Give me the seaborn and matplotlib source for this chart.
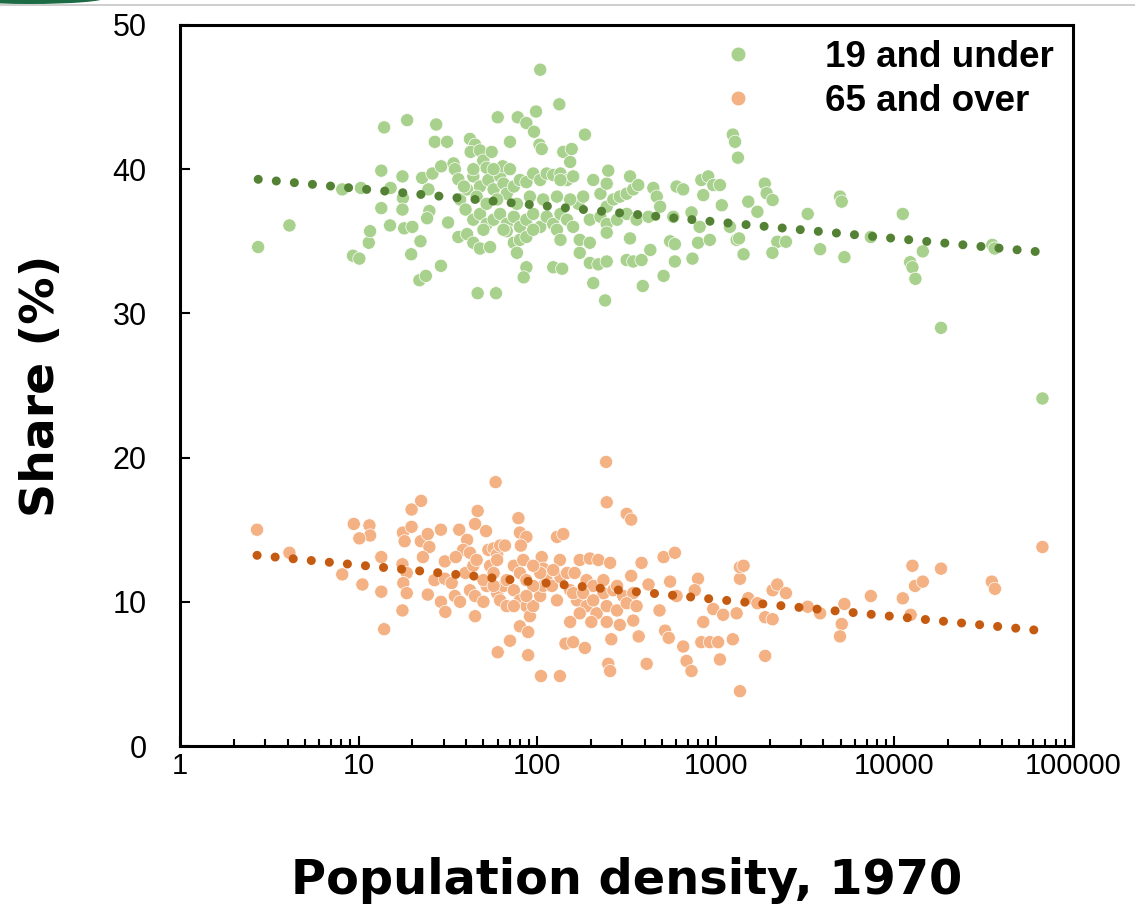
import numpy as np
import pandas as pd
import matplotlib
matplotlib.use("Agg")
import matplotlib.pyplot as plt
import seaborn as sns
from matplotlib.lines import Line2D
from matplotlib.patches import Ellipse
from matplotlib.ticker import LogLocator, FixedLocator, NullFormatter, FixedFormatter

# ---------------- data ----------------
series_names = ["19 and under", "65 and over"]

young_density = [
    2.74, 4.1, 8.1, 10.3, 9.3, 10.1, 11.4, 11.6, 13.4, 13.4, 13.9, 15.0, 15.1, 17.6, 17.7, 17.6,
    18.0, 18.7, 19.7, 20, 22.2, 21.9, 23.8, 22.7, 24.6, 24.9, 24.2, 25.9, 27.2, 26.7, 31.3, 29.0,
    28.9, 31.7, 34, 34.6, 36.2, 37.0, 42, 44.9, 42.4, 47.8, 49.9, 52.1, 46.4, 58.8, 40.5, 43.9,
    47.8, 53.3, 57, 62, 64.8, 67.5, 74, 80, 87, 95, 104, 113, 123, 135, 147, 159,
    39.7, 43.9, 47.8, 52.1, 57, 62, 67.5, 74, 80, 87, 95, 104, 113, 123, 135, 147, 159,
    36.2, 40.5, 43.9, 47.8, 54.5, 67.5, 74, 80, 87, 77, 87, 84, 123, 138,
    55.6, 60.1, 77.8, 98.5, 133, 87, 96, 103, 106, 70.4, 64.1, 185, 140, 156, 153,
    170, 181, 206, 226, 245, 250, 245, 267, 290, 317, 345, 197, 226, 245, 280, 317, 360, 420,
    173, 197, 245, 331, 173, 197, 220, 245, 317, 345, 384, 430, 206, 240, 390, 510,
    331, 368, 447, 603, 657, 830, 907, 968, 1055, 467, 488, 578, 731, 851, 812, 1080, 1200, 1308,
    555, 590, 795, 926, 590, 740, 38.9, 45.8, 52.1, 59.7, 77, 91, 108, 129, 153,
    50, 64.8, 95, 129, 135, 43.9, 57, 70.4, 135, 104, 1245, 1282, 1330,
    1520, 1710, 1880, 1926, 2080, 1430, 1350, 2210, 2470, 2075, 3270, 3840, 4960, 5070, 5250,
    7380, 11140, 14420, 12250, 12620, 13110, 18240, 35350, 36390, 67450,
]
young_share = [
    34.6, 36.1, 38.6, 38.7, 34.0, 33.8, 34.9, 35.7, 37.3, 39.9, 42.9, 36.1, 38.7, 39.5, 38.0, 37.2,
    35.9, 43.4, 34.1, 36.0, 35.0, 32.3, 32.6, 39.4, 38.6, 37.1, 36.6, 39.7, 43.1, 41.9, 41.9, 40.2,
    33.3, 36.3, 40.4, 40.0, 39.3, 37.9, 42.1, 41.7, 41.2, 41.3, 40.6, 40.1, 31.4, 31.4, 38.6, 39.5,
    38.8, 39.25, 38.6, 39.5, 39.0, 38.3, 38.8, 39.25, 39.1, 39.7, 39.25, 39.7, 39.6, 39.7, 39.25, 39.5,
    37.2, 36.5, 36.9, 36.2, 36.5, 36.9, 36.2, 36.7, 36.0, 36.5, 36.9, 36.0, 36.7, 36.2, 36.9, 36.5, 36.0,
    35.3, 35.5, 34.9, 34.5, 34.6, 35.7, 34.9, 35.1, 35.3, 34.2, 33.2, 32.5, 33.2, 33.1,
    41.2, 43.6, 43.6, 44.0, 44.5, 43.2, 42.6, 41.7, 41.4, 41.9, 40.2, 42.4, 41.2, 41.4, 40.5,
    37.6, 38.1, 39.25, 38.3, 39.0, 39.9, 37.4, 37.9, 38.1, 38.3, 38.6, 36.5, 36.7, 36.2, 36.5, 36.9, 36.5, 36.7,
    35.1, 34.9, 35.6, 35.2, 34.2, 33.5, 33.4, 33.6, 33.7, 33.6, 33.7, 34.4, 32.1, 30.9, 31.9, 32.6,
    39.5, 38.9, 38.7, 38.8, 38.6, 39.25, 39.5, 38.9, 38.9, 38.1, 37.4, 36.7, 37.0, 38.2, 36.0, 37.5, 36.0, 35.1,
    35.0, 34.8, 34.9, 35.1, 33.6, 33.8, 38.8, 38.1, 37.6, 37.9, 37.6, 38.1, 37.9, 38.1, 37.9,
    35.8, 35.8, 35.8, 35.8, 35.1, 40.0, 40.0, 40.0, 39.25, 46.9, 42.4, 41.9, 40.8,
    37.75, 37.05, 39.0, 38.33, 37.86, 34.1, 35.2, 34.97, 34.97, 34.2, 36.9, 34.45, 38.1, 37.75, 33.9,
    35.3, 36.9, 34.3, 33.55, 33.2, 32.4, 29.0, 34.75, 34.5, 24.1,
]

old_density = [
    2.7, 4.1, 8.1, 9.4, 11.5, 11.6, 10.1, 10.5, 13.4, 13.4, 13.9, 17.6, 18.6, 17.8, 18.6, 17.6,
    17.7, 18.1, 19.8, 19.8, 22.4, 22.3, 24.4, 24.9, 22.9, 24.4, 28.9, 28.9, 30.6, 26.6, 30.4, 33.2,
    34.6, 37, 36.6, 40.5, 38.5, 44.9, 46.4, 51.7, 30.4, 35, 39.7, 43.9, 42, 44.9, 44.9, 58.5,
    53.3, 57, 59.7, 62, 66, 54.5, 59.7, 57, 52.1, 50, 59.7, 64.8, 67.5, 74, 80, 78.5,
    80, 87, 81, 83.6, 74, 80, 87, 91, 95, 104, 108, 113, 121, 129, 135, 147, 153,
    106, 108, 129, 140, 134, 80, 89, 70.4, 60.1, 89, 105, 134, 243, 245, 317, 336,
    173, 197, 220, 256, 162, 189, 206, 235, 267, 303, 345, 167, 189, 215, 245, 280, 317, 360,
    173, 201, 245, 290, 345, 153, 144, 159, 185, 250, 256, 410, 260, 370,
    336, 384, 420, 510, 555, 590, 603, 484, 520, 545, 657, 686, 731, 851, 795, 762, 830, 926,
    1030, 1055, 968, 1100, 1245, 1308, 1365, 1365, 1365,
    42, 45.8, 50, 57, 62, 67.5, 74, 87, 95, 104, 123, 95, 87, 159, 181, 206, 235, 280,
    1430, 1520, 1710, 1890, 2080, 1890, 2080, 2210, 2470, 3270, 3840, 5250, 5070, 4960,
    7380, 11140, 12330, 12620, 13050, 14420, 18240, 35100, 36560, 67450,
]
old_share = [
    15.0, 13.4, 11.9, 15.4, 15.3, 14.6, 14.4, 11.2, 13.1, 10.7, 8.1, 12.6, 12.0, 11.3, 10.6, 9.4,
    14.8, 14.2, 15.2, 16.4, 17.0, 14.2, 14.7, 13.8, 13.1, 10.5, 15.0, 10.0, 9.3, 11.5, 11.6, 11.3,
    10.4, 10.0, 15.0, 14.3, 13.6, 15.4, 16.3, 14.9, 12.8, 13.1, 12.0, 12.5, 10.8, 10.4, 9.0, 18.3,
    13.6, 13.7, 13.3, 13.9, 13.9, 12.5, 12.9, 12.0, 11.1, 10.0, 10.6, 11.1, 11.5, 12.5, 12.0, 15.8,
    14.8, 14.5, 13.9, 12.9, 10.8, 10.1, 9.7, 9.0, 9.7, 10.4, 11.1, 11.5, 11.1, 10.1, 11.7, 12.0, 10.8,
    13.1, 12.3, 14.5, 14.7, 12.9, 8.3, 7.9, 7.3, 6.5, 6.3, 4.85, 4.85, 19.7, 16.9, 16.1, 15.7,
    12.9, 13.0, 12.9, 12.7, 12.0, 11.5, 11.1, 10.6, 10.8, 10.4, 10.6, 10.1, 9.7, 9.2, 9.7, 9.4, 9.9, 9.7,
    9.2, 8.6, 8.6, 8.4, 8.7, 8.6, 7.1, 7.2, 6.8, 5.7, 5.2, 5.7, 7.4, 7.6,
    11.8, 12.7, 11.2, 13.1, 11.4, 13.4, 10.4, 9.4, 8.0, 7.5, 6.9, 5.9, 5.2, 8.6, 11.6, 10.8, 7.2, 7.2,
    7.2, 6.0, 9.5, 9.1, 7.4, 9.2, 11.6, 3.8, 12.4,
    13.4, 12.9, 11.5, 11.1, 10.1, 9.7, 9.7, 11.5, 11.1, 12.0, 12.2, 12.5, 10.4, 10.6, 10.6, 10.1, 11.5, 11.1,
    12.5, 10.25, 9.9, 8.93, 8.79, 6.25, 10.8, 11.2, 10.6, 9.66, 9.2, 9.85, 8.46, 7.6,
    10.4, 10.24, 9.1, 12.5, 11.1, 11.4, 12.3, 11.4, 10.9, 13.8,
]

x_ticks = [1, 10, 100, 1000, 10000, 100000]
x_tick_labels = ["1", "10", "100", "1000", "10000", "100000"]
y_ticks = [0, 10, 20, 30, 40, 50]
x_label = "Population density, 1970"
y_label = "Share (%)"

point_colors = ["#A9D18E", "#F4B183"]
trend_colors = ["#548235", "#C55A11"]

# ---------------- figure ----------------
sns.set_theme(style="white")
plt.rcParams["font.family"] = ["Liberation Sans", "DejaVu Sans"]
for key in ["text.color", "axes.labelcolor", "xtick.color", "ytick.color", "axes.edgecolor"]:
    plt.rcParams[key] = "black"

W, H = 1135, 911
fig = plt.figure(figsize=(W / 100, H / 100), dpi=100)
ax = fig.add_axes([180 / W, 1 - 746 / H, (1073 - 180) / W, (746 - 25) / H])

df = pd.concat([
    pd.DataFrame({"density": young_density, "share": young_share, "group": series_names[0]}),
    pd.DataFrame({"density": old_density, "share": old_share, "group": series_names[1]}),
], ignore_index=True)

ax.set_xscale("log")
sns.scatterplot(data=df, x="density", y="share", hue="group", hue_order=series_names,
                palette=point_colors, s=90, edgecolor="white", linewidth=0.5,
                alpha=1.0, ax=ax, zorder=2)

for name, tc in zip(series_names, trend_colors):
    sub = df[df["group"] == name]
    sns.regplot(data=sub, x="density", y="share", logx=True, scatter=False, ci=None,
                truncate=True, ax=ax,
                line_kws=dict(color=tc, lw=6.5, linestyle=(0, (0.01, 2.0)),
                              dash_capstyle="round", zorder=3))

ax.set_xlim(1, 100000)
ax.set_ylim(0, 50)

ax.xaxis.set_major_locator(FixedLocator(x_ticks))
ax.xaxis.set_major_formatter(FixedFormatter(x_tick_labels))
ax.xaxis.set_minor_locator(LogLocator(base=10, subs=np.arange(2, 10)))
ax.xaxis.set_minor_formatter(NullFormatter())
ax.set_yticks(y_ticks)
ax.set_yticklabels([str(v) for v in y_ticks])

ax.tick_params(axis="x", which="major", direction="in", length=7.2, width=1.5,
               labelsize=21, pad=4, colors="black", bottom=True, top=False)
ax.tick_params(axis="x", which="minor", direction="in", length=5, width=1.5,
               bottom=True, top=False, colors="black")
ax.tick_params(axis="y", which="major", direction="in", length=7.2, width=1.5,
               labelsize=22, pad=24, colors="black", left=True, right=False)

for sp in ax.spines.values():
    sp.set_visible(True)
    sp.set_color("black")
    sp.set_linewidth(2.2)

ax.set_xlabel(x_label, fontsize=34.5, fontweight="bold", family="DejaVu Sans",
              va="center", color="black")
ax.xaxis.set_label_coords(0.5, -0.187)
ax.set_ylabel(y_label, fontsize=34, fontweight="bold", family="DejaVu Sans",
              va="center", color="black")
ax.yaxis.set_label_coords(-0.155, 0.5)

handles, labels = ax.get_legend_handles_labels()
leg = ax.legend(handles[:2], labels[:2], loc="upper left", bbox_to_anchor=(0.604, 0.979),
                frameon=False, borderaxespad=0, borderpad=0, handlelength=1.0,
                handletextpad=1.86, labelspacing=0.24, markerscale=1.12,
                prop=dict(family="Liberation Sans", weight="bold", size=26.5))
for t in leg.get_texts():
    t.set_color("black")

# slide decoration at the top edge
fig.add_artist(Line2D([0, 1], [1 - 5 / H, 1 - 5 / H], transform=fig.transFigure,
                      color="#c6c6c6", lw=1.2))
fig.add_artist(Ellipse((30 / W, 1 + 2 / H), 150 / W, 12 / H, transform=fig.transFigure,
                       color="#1d6b45", lw=0))

fig.savefig("out.png", dpi=100)
